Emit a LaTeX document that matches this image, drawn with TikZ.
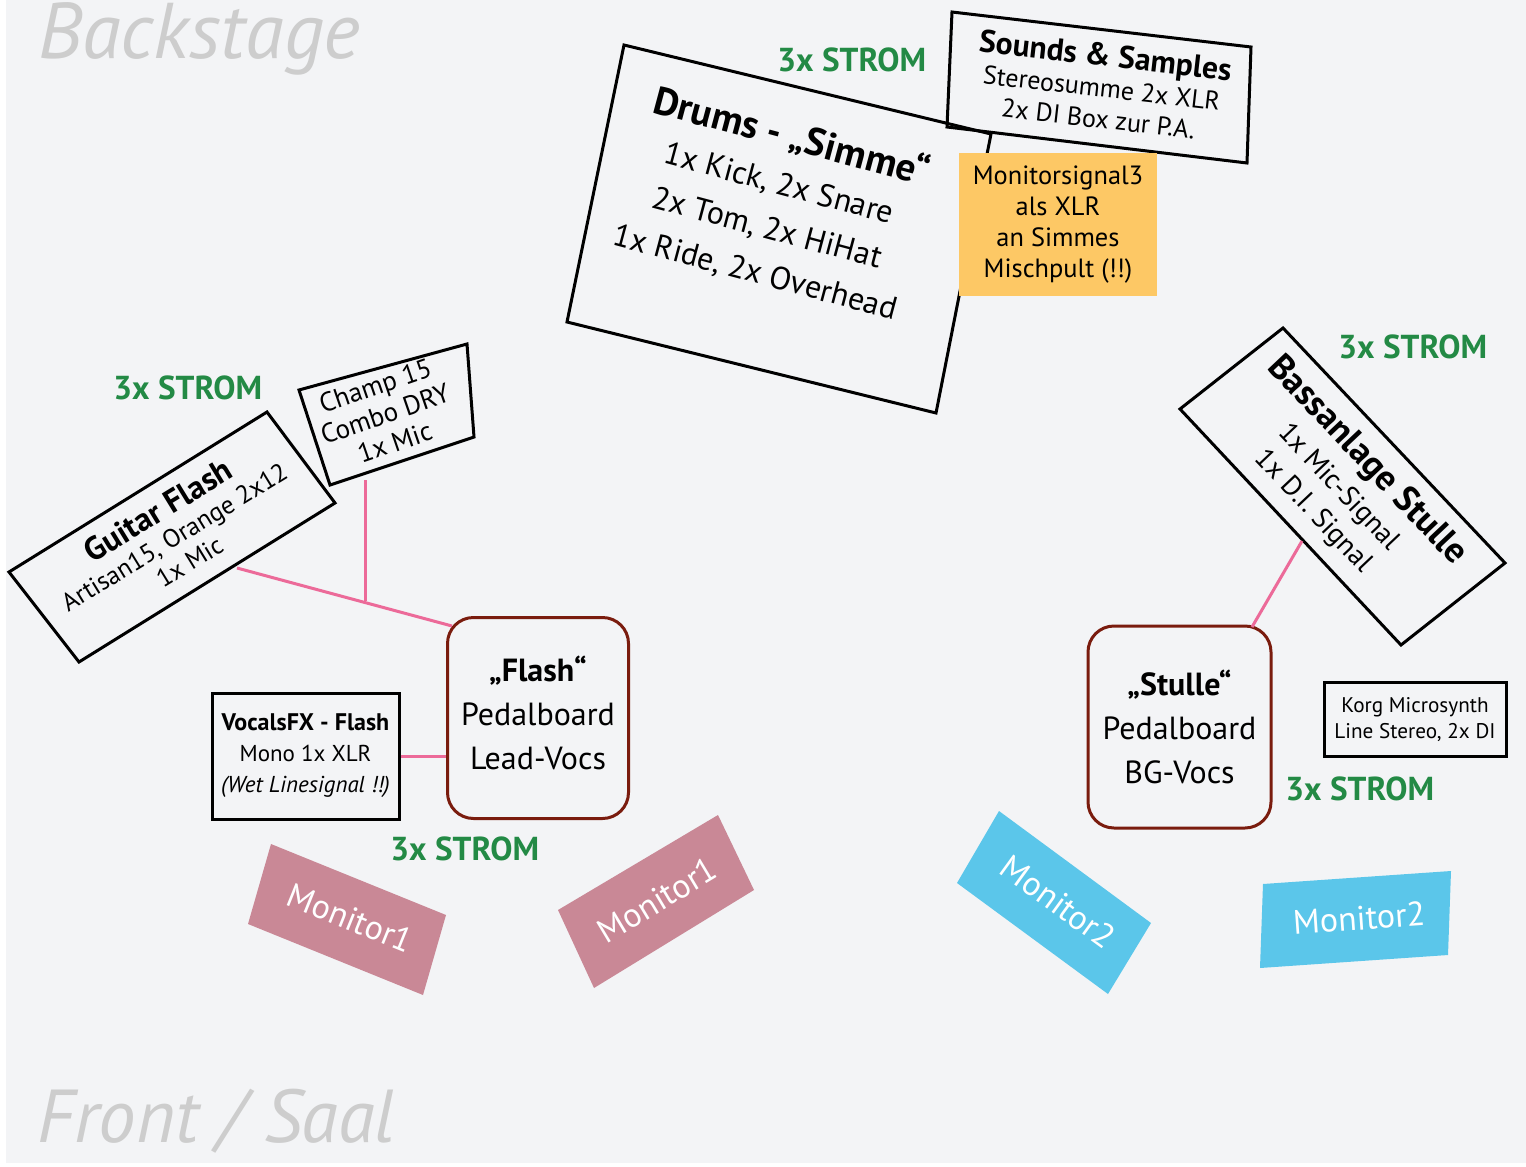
\documentclass[tikz,border=0pt]{standalone}
\usepackage{fontspec}
\setmainfont{PT Sans}
\definecolor{bgc}{HTML}{F3F4F6}
\definecolor{graytxt}{HTML}{CDCDCD}
\definecolor{strom}{HTML}{238A45}
\definecolor{wire}{HTML}{EC6A99}
\definecolor{pedal}{HTML}{7A1C0E}
\definecolor{orangebox}{HTML}{FDC865}
\definecolor{monpink}{HTML}{C98896}
\definecolor{monblue}{HTML}{5BC6EA}
\newcommand{\fsz}[2]{\fontsize{#1}{#2}\selectfont}
\tikzset{
  boxline/.style={draw=black, line width=1.5pt, line join=miter},
  txt/.style={inner sep=0pt, align=center, text=black},
  stromlbl/.style={inner sep=0pt, text=strom, font=\fsz{16.6}{20}\bfseries, anchor=base west},
  wireline/.style={draw=wire, line width=1.5pt},
  pedalbox/.style={draw=pedal, line width=1.5pt, rounded corners=13pt, fill=bgc, inner sep=0pt},
  pedaltxt/.style={inner sep=0pt, align=center, font=\fsz{16}{22}},
  monpinkfill/.style={fill=monpink},
  monbluefill/.style={fill=monblue},
  montxt/.style={inner sep=0pt, text=white, font=\fsz{17}{20}},
  areatxt/.style={inner sep=0pt, text=graytxt, anchor=base west}
}
\begin{document}
\begin{tikzpicture}[x=0.5pt,y=-0.5pt]
\useasboundingbox (0,0) rectangle (1526,1167);
\fill[bgc] (6,0) rectangle (1526,1163);

% area labels
\node[areatxt, font=\fsz{39.5}{44}\itshape] (backstage) at (38,58) {Backstage};
\node[areatxt, font=\fsz{37.5}{44}\itshape] (front) at (37,1142) {Front / Saal};

% Drums
\coordinate (d1) at (624,45); \coordinate (d2) at (991,134);
\coordinate (d3) at (936,413); \coordinate (d4) at (567,322);
\draw[boxline] (d1) -- (d2) -- (d3) -- (d4) -- cycle;
\node[txt, rotate=-15, font=\fsz{16}{23}] (drums) at (774,203)
  {{\fsz{19.5}{23}\bfseries Drums - „Simme“}\\
   1x Kick, 2x Snare\\2x Tom, 2x HiHat\\1x Ride, 2x Overhead};

% Sounds & Samples
\coordinate (s1) at (952,12); \coordinate (s2) at (1251,47);
\coordinate (s3) at (1247,163); \coordinate (s4) at (947,127);
\draw[boxline] (s1) -- (s2) -- (s3) -- (s4) -- cycle;
\node[txt, rotate=-6.5, font=\fsz{13}{15.5}] (sounds) at (1102,86)
  {{\fsz{15.8}{16}\bfseries Sounds \& Samples}\\
   Stereosumme 2x XLR\\2x DI Box zur P.A.};

% Monitorsignal
\node[fill=orangebox, minimum width=99pt, minimum height=71.5pt, inner sep=0pt,
      align=center, font=\fsz{13.2}{15.5}] (monsig) at (1058,224.5)
  {Monitorsignal3\\als XLR\\an Simmes\\Mischpult (!!)};

% STROM labels
\node[stromlbl] (strom1) at (777,71) {3x STROM};
\node[stromlbl] (strom2) at (113,399) {3x STROM};
\node[stromlbl] (strom3) at (1338,358) {3x STROM};
\node[stromlbl] (strom4) at (390,860) {3x STROM};
\node[stromlbl] (strom5) at (1285,800) {3x STROM};

% Guitar Flash
\coordinate (g1) at (9,572); \coordinate (g2) at (267,412);
\coordinate (g3) at (335,503); \coordinate (g4) at (79,662);
\draw[boxline] (g1) -- (g2) -- (g3) -- (g4) -- cycle;
\node[txt, rotate=31.5, font=\fsz{12.8}{14.5}] (guitar) at (173,535)
  {{\fsz{16.3}{17}\bfseries Guitar Flash}\\
   Artisan15, Orange 2x12\\1x Mic};

% Champ
\coordinate (c1) at (299,390); \coordinate (c2) at (467,344);
\coordinate (c3) at (474,437); \coordinate (c4) at (330,485);
\draw[boxline] (c1) -- (c2) -- (c3) -- (c4) -- cycle;
\node[txt, rotate=19, font=\fsz{13.5}{15}] (champ) at (385,414)
  {Champ 15\\Combo DRY\\1x Mic};

% Flash pedalboard
\node[pedalbox, minimum width=90.5pt, minimum height=100.5pt] (flash) at (538,718) {};
\node[pedaltxt] (flashtxt) at (538,713) {{\bfseries „Flash“}\\Pedalboard\\Lead-Vocs};

% VocalsFX
\node[boxline, minimum width=93.5pt, minimum height=63pt, inner sep=0pt, align=center,
      font=\fsz{11.5}{15.5}] (vocals) at (305.5,756)
  {{\fsz{12}{15.5}\bfseries VocalsFX - Flash}\\Mono 1x XLR\\{\itshape(Wet Linesignal !!)}};

% Stulle pedalboard
\node[pedalbox, minimum width=91.5pt, minimum height=101pt] (stulle) at (1179.5,727) {};
\node[pedaltxt] (stulletxt) at (1179.5,727) {{\bfseries „Stulle“}\\Pedalboard\\BG-Vocs};

% Bassanlage
\coordinate (b1) at (1283,328); \coordinate (b2) at (1505,563);
\coordinate (b3) at (1401,645); \coordinate (b4) at (1180,409);
\draw[boxline] (b1) -- (b2) -- (b3) -- (b4) -- cycle;
\node[txt, rotate=-46.6, font=\fsz{14}{17.5}] (bass) at (1341,485)
  {{\fsz{18}{18}\bfseries Bassanlage Stulle}\\[1pt]
   1x Mic-Signal\\1x D.I. Signal};

% Korg
\node[boxline, minimum width=91pt, minimum height=37pt, inner sep=0pt, align=center,
      font=\fsz{10.6}{13}] (korg) at (1415,719.5)
  {Korg Microsynth\\Line Stereo, 2x DI};

% connectors
\coordinate (gconn) at (237,568);
\coordinate (fconn) at (452,626);
\coordinate (cconn) at (365,480);
\coordinate (junc) at (365,601);
\coordinate (bconn) at (1302,541);
\coordinate (sconn) at (1252,627);
\draw[wireline] (gconn) -- (fconn);
\draw[wireline] (cconn) -- (junc);
\draw[wireline] (vocals.east) -- (flash.west |- vocals.east);
\draw[wireline] (bconn) -- (sconn);

% Monitors
\fill[monpinkfill] (271,844) -- (446,915) -- (423,995) -- (248,924) -- cycle;
\node[montxt, rotate=-22] (mon1a) at (350,918) {Monitor1};
\fill[monpinkfill] (558,910) -- (718,815) -- (754,890) -- (594,988) -- cycle;
\node[montxt, rotate=31] (mon1b) at (657,900) {Monitor1};
\fill[monbluefill] (999,811) -- (1151,923) -- (1108,994) -- (957,883) -- cycle;
\node[montxt, rotate=-36] (mon2a) at (1058,902) {Monitor2};
\fill[monbluefill] (1263,884) -- (1451,871) -- (1448,955) -- (1260,968) -- cycle;
\node[montxt, rotate=4] (mon2b) at (1359,918) {Monitor2};
\end{tikzpicture}
\end{document}
